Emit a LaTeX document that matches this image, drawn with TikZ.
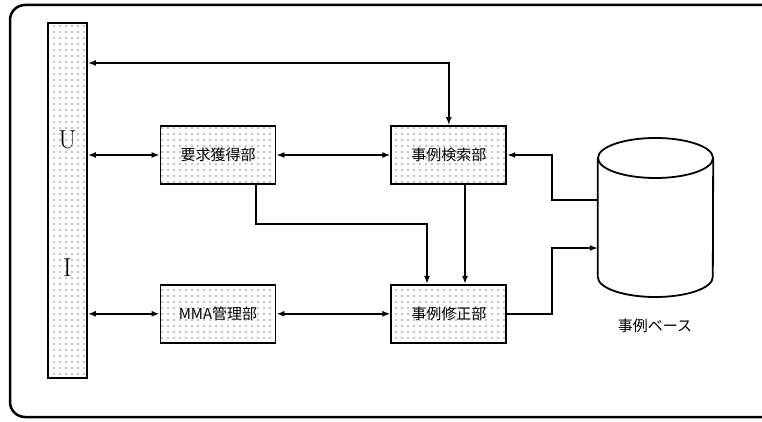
\documentclass[tikz,border=0pt]{standalone}
\usepackage{fontspec}
\newfontfamily\cjk{Noto Sans CJK JP}
\usetikzlibrary{positioning,arrows.meta,patterns.meta}

\tikzset{
  modulo/.style={draw, line width=1.8pt, pattern={Dots[distance=6pt,radius=0.7pt]},
    minimum width=115pt, minimum height=58pt, inner sep=0pt,
    font=\fontsize{15}{17}\selectfont\cjk},
  freccia/.style={line width=1.8pt, -{Latex[length=8pt,width=6pt]}},
  doppia/.style={line width=1.8pt, {Latex[length=8pt,width=6pt]}-{Latex[length=8pt,width=6pt]}},
}

\begin{document}
\begin{tikzpicture}[x=1pt, y=-1pt]
    \useasboundingbox (0,0) rectangle (762,422);
    % cornice esterna
    \draw[line width=2.5pt, rounded corners=15pt] (780,5) -- (10,5) -- (10,417) -- (780,417);

    % barra UI
    \node[draw, line width=1.8pt, pattern={Dots[distance=6pt,radius=0.7pt]},
      minimum width=39pt, minimum height=355pt, inner sep=0pt] (ui) at (67.5,200.5) {};
    \node[font=\fontsize{26}{28}\selectfont] (lblu) at (67.5,140) {U};
    \node[font=\fontsize{26}{28}\selectfont] (lbli) at (67.5,268) {I};

    % moduli
    \node[modulo] (req) at (218,155) {要求獲得部};
    \node[modulo, right=114pt of req] (search) {事例検索部};
    \node[modulo, below=99pt of req] (mma) {MMA{\cjk 管理部}};
    \node[modulo, below=99pt of search] (mod) {事例修正部};

    % base dei casi
    \node[minimum width=115pt, minimum height=159pt, inner sep=0pt] (db) at (655.5,217.5) {};
    \draw[line width=1.8pt] (655.5,158) ellipse[x radius=57.5pt, y radius=20pt];
    \draw[line width=1.8pt] (db.west |- 0,158) -- (db.west |- 0,277)
      arc[start angle=180, end angle=360, x radius=57.5pt, y radius=20pt]
      -- (db.east |- 0,158);
    \node[font=\fontsize{15}{17}\selectfont\cjk] (dblabel) at (655,326) {事例ベース};

    \coordinate (topy) at (0,63);
    \coordinate (kinka) at (552,200);
    \coordinate (kinkb) at (552,248);
    \coordinate (dropa) at (256,224);
    \coordinate (dropb) at (427,224);
    \coordinate (dropc) at (465,0);

    \draw[doppia] (ui.east |- topy) -| (search.north);
    \draw[doppia] (ui.east |- req.west) -- (req.west);
    \draw[doppia] (req.east) -- (search.west);
    \draw[doppia] (ui.east |- mma.west) -- (mma.west);
    \draw[doppia] (mma.east) -- (mod.west);
    \draw[freccia] (db.west |- kinka) -- (kinka) |- (search.east);
    \draw[freccia] (mod.east) -| (kinkb) -- (db.west |- kinkb);
    \draw[freccia] (req.south -| dropa) -- (dropa) -- (dropb) -- (dropb |- mod.north);
    \draw[freccia] (search.south -| dropc) -- (mod.north -| dropc);
\end{tikzpicture}
\end{document}
